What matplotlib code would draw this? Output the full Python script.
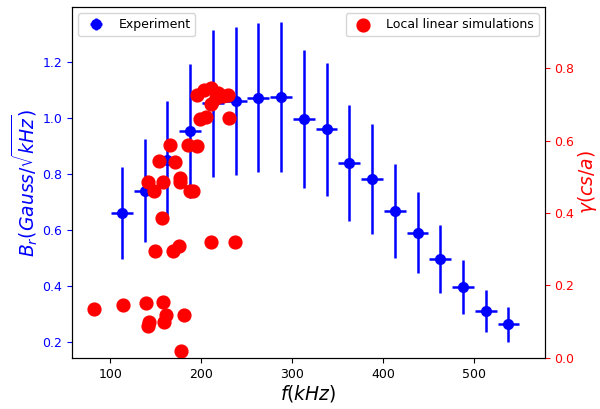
import matplotlib
matplotlib.use("Agg")
import matplotlib.pyplot as plt

# Experiment (blue, left axis)
exp_f = [113, 138, 163, 188, 213, 238, 263, 288, 313, 338, 363, 388, 413, 438, 463, 488, 513, 538]
exp_B = [0.659, 0.739, 0.848, 0.952, 1.051, 1.059, 1.071, 1.073, 0.994, 0.958, 0.837, 0.781,
         0.667, 0.589, 0.494, 0.396, 0.310, 0.262]
exp_Berr = [0.165, 0.184, 0.212, 0.238, 0.262, 0.263, 0.267, 0.268, 0.247, 0.238, 0.207, 0.195,
            0.168, 0.145, 0.121, 0.097, 0.076, 0.063]
exp_ferr = [12] * 18

# Local linear simulations (red, right axis)
sim_f = [81.8, 114.5, 139.3, 158.2, 142.5, 141.8, 161.9, 159.3, 180.8, 178.2,
         149.1, 169.1, 175.3, 211.0, 237.5, 157.1, 148.4, 187.3, 191.0, 141.8,
         158.2, 176.4, 176.4, 154.0, 171.5, 165.5, 185.5, 195.7, 199.3, 205.5,
         230.9, 195.7, 203.7, 211.0, 218.2, 229.1, 211.0, 216.4, 223.6]
sim_g = [0.136, 0.146, 0.152, 0.154, 0.098, 0.087, 0.118, 0.098, 0.118, 0.020,
         0.294, 0.294, 0.308, 0.320, 0.320, 0.386, 0.460, 0.460, 0.460, 0.485,
         0.485, 0.497, 0.487, 0.543, 0.541, 0.589, 0.589, 0.584, 0.659, 0.664,
         0.662, 0.727, 0.741, 0.746, 0.732, 0.727, 0.700, 0.718, 0.723]

fig = plt.figure(figsize=(6, 4.09), dpi=100)
ax = fig.add_axes([0.12, 0.125, 0.788, 0.858])
ax2 = ax.twinx()

ax.errorbar(exp_f, exp_B, yerr=exp_Berr, xerr=exp_ferr, fmt='o', color='blue',
            ms=7, elinewidth=1.8, capsize=0, label='Experiment', zorder=3)
ax2.scatter(sim_f, sim_g, s=85, color='red', label='Local linear simulations', zorder=2)

ax.set_xlim(58, 578)
ax.set_ylim(0.142, 1.395)
ax2.set_ylim(0, 0.969)
ax.set_xticks([100, 200, 300, 400, 500])
ax.set_yticks([0.2, 0.4, 0.6, 0.8, 1.0, 1.2])
ax2.set_yticks([0.0, 0.2, 0.4, 0.6, 0.8])

ax.tick_params(axis='y', colors='blue', labelsize=9)
ax.tick_params(axis='x', labelsize=9)
ax2.tick_params(axis='y', colors='red', labelsize=9)

ax.set_xlabel(r'$f(kHz)$', fontsize=13.5, labelpad=2)
ax.set_ylabel(r'$B_r(Gauss/\sqrt{kHz})$', color='blue', fontsize=13.5, labelpad=2)
ax2.set_ylabel(r'$\gamma(cs/a)$', color='red', fontsize=13.5, labelpad=1)

ax.legend(loc='upper left', fontsize=9)
ax2.legend(loc='upper right', fontsize=9)

fig.savefig('out.png', dpi=100)
